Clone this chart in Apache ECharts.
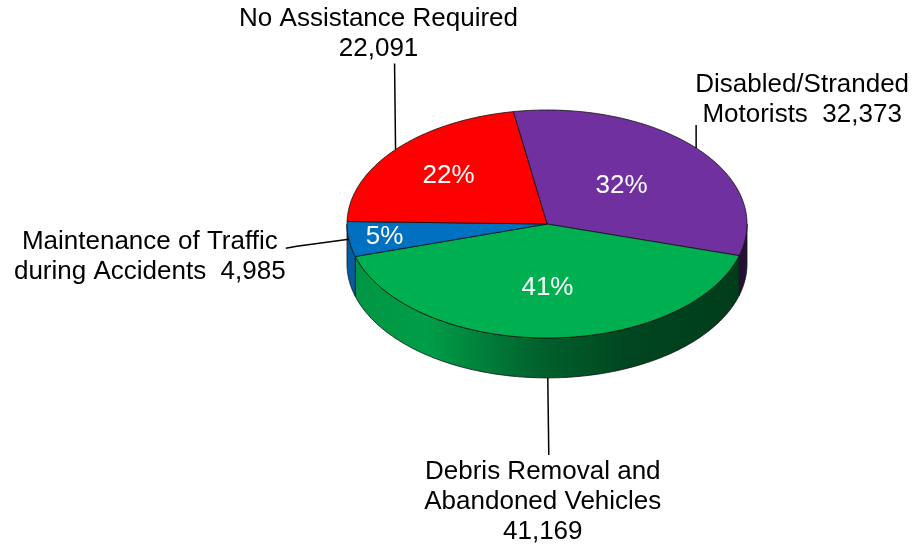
<!DOCTYPE html>
<html>
<head>
<meta charset="utf-8">
<script src="https://cdn.jsdelivr.net/npm/echarts@6/dist/echarts.min.js"></script>
<style>
  html, body { margin: 0; padding: 0; background: #fff; }
  #chart { width: 914px; height: 547px; }
</style>
</head>
<body>
<div id="chart"></div>
<script>
// slices, clockwise from the top
const categories = ['Disabled/Stranded\nMotorists', 'Debris Removal and\nAbandoned Vehicles', 'Maintenance of Traffic\nduring Accidents', 'No Assistance Required'];
const values = [32373, 41169, 4985, 22091];
const colors = ['#7030A0', '#00B050', '#0070C0', '#FF0000'];

// label layout (pixels / pie units)
const startAngle = -9.7;
const depth = 0.35;
const pctRadius = [0.5, 0.56, 0.82, 0.65];
const valueSep = ['  ', '\n', '  ', '\n'];
const leaderDrop = [0, 1, 0, 0];
const leaderPath = [[[0, -23]], [[1, 77]], [[-52, 7], [-63, 9]], [[-1, -86]]];
const labelOffset = [[106, -48], [-5, 124], [-199, 18], [-17, -116]];

const total = values.reduce((a, b) => a + b, 0);
const angles = [];
let acc = startAngle;
values.forEach(v => {
  const a0 = acc;
  acc += v / total * 360;
  angles.push([a0, acc]);
});

const font = '26px "Liberation Sans", Arial, sans-serif';

function shade(hex, f) {
  const n = parseInt(hex.slice(1), 16);
  const r = Math.round(((n >> 16) & 255) * f);
  const g = Math.round(((n >> 8) & 255) * f);
  const b = Math.round((n & 255) * f);
  return 'rgb(' + r + ',' + g + ',' + b + ')';
}

function rim(api, deg, r, drop) {
  const t = deg * Math.PI / 180;
  return api.coord([r * Math.sin(t), r * Math.cos(t) - (drop || 0)]);
}

function arc(api, a0, a1, drop) {
  const pts = [];
  const n = Math.max(2, Math.ceil((a1 - a0) / 1));
  for (let k = 0; k <= n; k++) pts.push(rim(api, a0 + (a1 - a0) * k / n, 1, drop));
  return pts;
}

function renderItem(params, api) {
  const i = params.dataIndex;
  const [a0, a1] = angles[i];
  const children = [];
  const left = api.coord([-1, 0])[0];
  const right = api.coord([1, 0])[0];

  // side wall of the front half
  const b0 = Math.max(a0, 90), b1 = Math.min(a1, 270);
  if (b1 > b0) {
    const pts = arc(api, b0, b1, 0).concat(arc(api, b0, b1, depth).reverse());
    children.push({
      type: 'polygon',
      shape: { points: pts },
      style: {
        fill: {
          type: 'linear', x: left, y: 0, x2: right, y2: 0, global: true,
          colorStops: [
            { offset: 0, color: shade(colors[i], 0.84) },
            { offset: 0.2, color: shade(colors[i], 0.9) },
            { offset: 0.48, color: shade(colors[i], 0.55) },
            { offset: 0.7, color: shade(colors[i], 0.4) },
            { offset: 1, color: shade(colors[i], 0.34) }
          ]
        },
        stroke: '#111', lineWidth: 0.8
      }
    });
  }

  // top face
  const c = api.coord([0, 0]);
  children.push({
    type: 'polygon',
    shape: { points: [c].concat(arc(api, a0, a1, 0)) },
    style: { fill: colors[i], stroke: '#111', lineWidth: 0.8 }
  });

  // percentage
  const mid = (a0 + a1) / 2;
  const p = rim(api, mid, pctRadius[i], 0);
  children.push({
    type: 'text',
    style: {
      text: Math.round(values[i] / total * 100) + '%',
      x: p[0], y: p[1], align: 'center', verticalAlign: 'middle',
      font: font, fill: '#fff'
    }
  });

  // leader line and category label
  const anchor = rim(api, mid, 1, depth * leaderDrop[i]);
  const line = [anchor].concat(leaderPath[i].map(o => [anchor[0] + o[0], anchor[1] + o[1]]));
  children.push({
    type: 'polyline',
    shape: { points: line },
    style: { stroke: '#000', lineWidth: 1.5, fill: null }
  });
  children.push({
    type: 'text',
    style: {
      text: categories[i] + valueSep[i] + values[i].toLocaleString('en-US'),
      x: anchor[0] + labelOffset[i][0], y: anchor[1] + labelOffset[i][1],
      align: 'center', verticalAlign: 'middle', lineHeight: 30,
      font: font, fill: '#000'
    }
  });

  return { type: 'group', children: children };
}

const chart = echarts.init(document.getElementById('chart'));
chart.setOption({
  animation: false,
  grid: { left: 347, top: 110, width: 400, height: 228 },
  xAxis: { type: 'value', min: -1, max: 1, show: false },
  yAxis: { type: 'value', min: -1, max: 1, show: false },
  series: [{
    type: 'custom',
    clip: false,
    renderItem: renderItem,
    data: values.map((v, i) => [i, v])
  }]
});
</script>
</body>
</html>
